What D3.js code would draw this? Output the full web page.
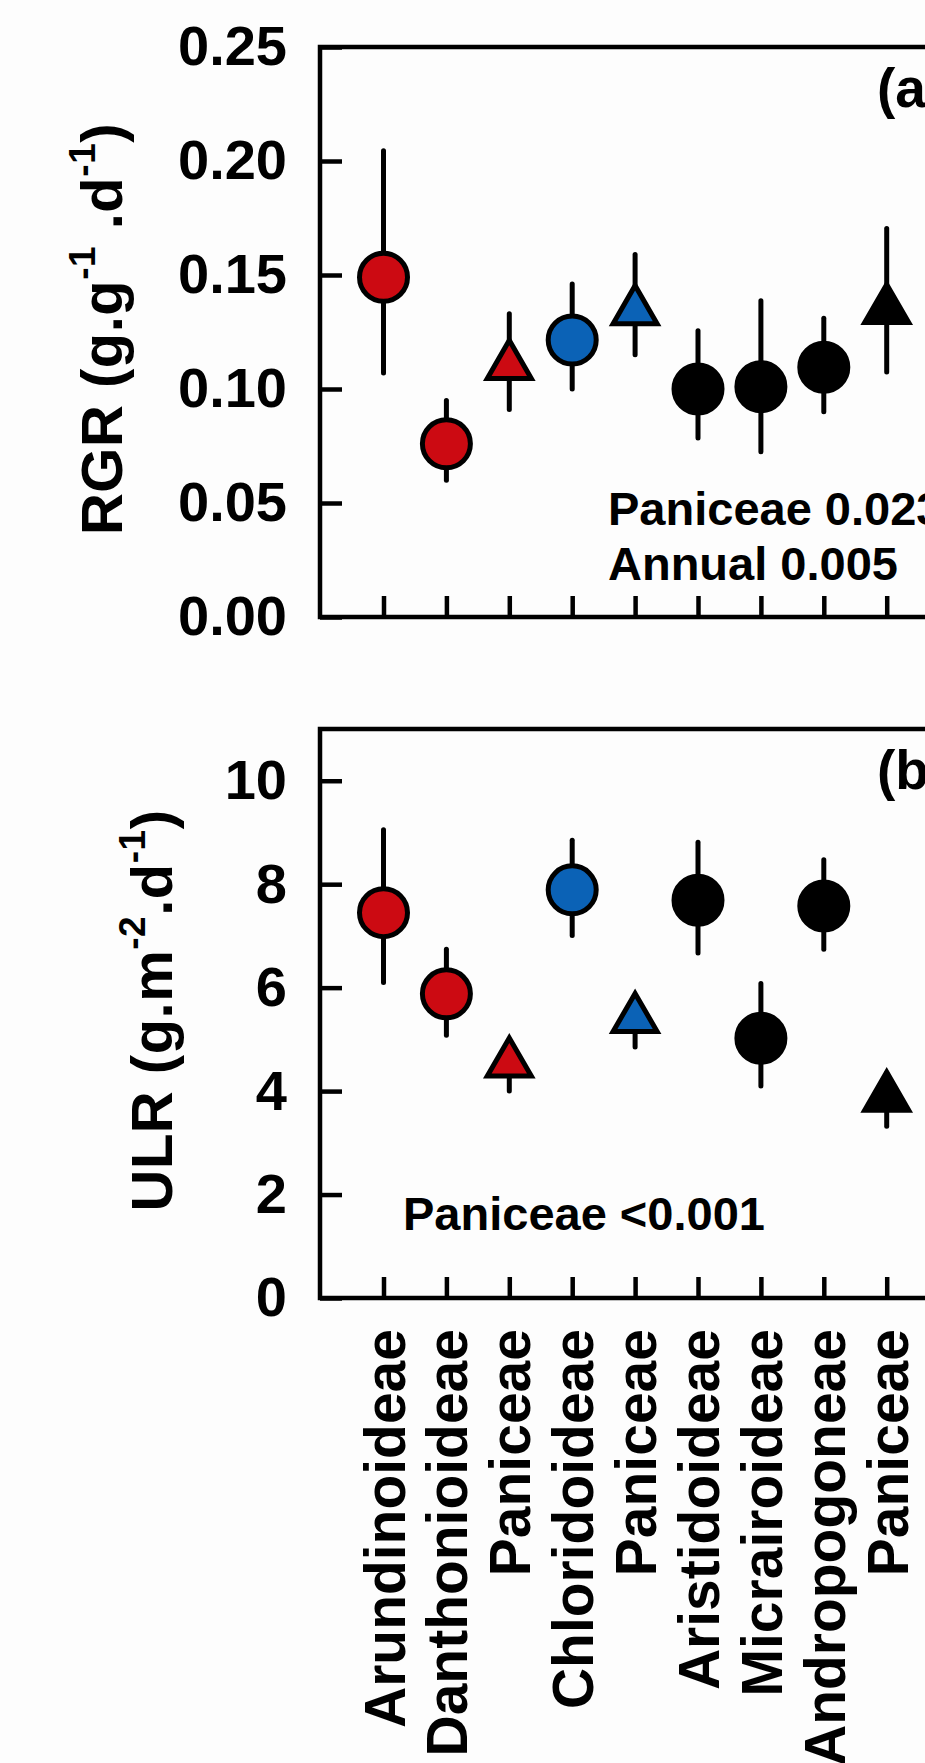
<!DOCTYPE html>
<html>
<head>
<meta charset="utf-8">
<script src="https://cdn.jsdelivr.net/npm/d3@7"></script>
<style>
body { margin: 0; background: #fdfdfd; }
svg { display: block; font-family: "Liberation Sans", Arial, sans-serif; font-weight: bold; }
.axis path.domain { display: none; }
.axis line { stroke: #000; stroke-width: 4.5; }
.axis text { fill: #000; font-size: 56px; }
</style>
</head>
<body>
<svg id="chart" width="925" height="1763"></svg>
<script>
var tribes = ["Arundinoideae", "Danthonioideae", "Paniceae", "Chloridoideae", "Paniceae",
              "Aristidoideae", "Micrairoideae", "Andropogoneae", "Paniceae"];
var shapes = ["circle", "circle", "triangle", "circle", "triangle", "circle", "circle", "circle", "triangle"];
var groups = ["red", "red", "red", "blue", "blue", "black", "black", "black", "black"];

var rgrMean = [0.149, 0.076, 0.113, 0.1215, 0.137, 0.100, 0.101, 0.1095, 0.1375];
var rgrLow  = [0.107, 0.060, 0.091, 0.100, 0.115, 0.0785, 0.0725, 0.090, 0.1075];
var rgrHigh = [0.2045, 0.095, 0.133, 0.146, 0.159, 0.1256, 0.1387, 0.131, 0.1704];
var rgrTicks = [0, 0.05, 0.10, 0.15, 0.20, 0.25];

var ulrMean = [7.45, 5.88, 4.66, 7.89, 5.52, 7.69, 5.02, 7.58, 4.00];
var ulrLow  = [6.10, 5.08, 4.00, 7.01, 4.85, 6.67, 4.10, 6.74, 3.32];
var ulrHigh = [9.05, 6.74, 4.98, 8.85, 5.85, 8.81, 6.08, 8.47, 4.35];
var ulrTicks = [0, 2, 4, 6, 8, 10];

var colours = {red: "#cc0a12", blue: "#0b62b6", black: "#000000"};

var svg = d3.select("#chart");
svg.append("rect").attr("width", 925).attr("height", 1763).attr("fill", "#fdfdfd");

var x = d3.scalePoint().domain(d3.range(tribes.length)).range([383.5, 886.7]);
var frameLeft = 320;

function drawPanel(p) {
  var y = d3.scaleLinear().domain(p.domain).range([p.bottom, p.top]);
  var g = svg.append("g");

  g.append("rect")
    .attr("x", frameLeft).attr("y", p.top)
    .attr("width", 700).attr("height", p.bottom - p.top)
    .attr("fill", "none").attr("stroke", "#000").attr("stroke-width", 4.5);

  g.append("g")
    .attr("class", "axis")
    .attr("transform", "translate(" + frameLeft + ",0)")
    .call(d3.axisLeft(y).tickValues(p.ticks).tickFormat(p.format).tickSize(-22).tickPadding(33));

  var xa = g.append("g")
    .attr("class", "axis")
    .attr("transform", "translate(0," + p.bottom + ")")
    .call(d3.axisBottom(x).tickSize(-21).tickFormat(function(i) { return p.names ? tribes[i] : ""; }));
  xa.selectAll("text")
    .attr("transform", "rotate(-90)")
    .attr("x", -31).attr("y", 0).attr("dy", "0.36em")
    .attr("text-anchor", "end")
    .style("font-size", "57px");

  // error bars
  g.selectAll(".err")
    .data(p.mean)
    .enter().append("line")
    .attr("x1", function(d, i) { return x(i); })
    .attr("x2", function(d, i) { return x(i); })
    .attr("y1", function(d, i) { return y(p.low[i]); })
    .attr("y2", function(d, i) { return y(p.high[i]); })
    .attr("stroke", "#000").attr("stroke-width", 5).attr("stroke-linecap", "round");

  // markers
  var tri = d3.symbol().type(d3.symbolTriangle).size(838);
  var a = Math.sqrt(838 / (Math.sqrt(3) * 3));
  p.mean.forEach(function(d, i) {
    if (shapes[i] === "circle") {
      g.append("circle")
        .attr("cx", x(i)).attr("cy", y(d)).attr("r", 24)
        .attr("fill", colours[groups[i]])
        .attr("stroke", "#000").attr("stroke-width", 5);
    } else {
      g.append("path")
        .attr("d", tri)
        .attr("transform", "translate(" + x(i) + "," + (y(d) + a / 2) + ")")
        .attr("fill", colours[groups[i]])
        .attr("stroke", "#000").attr("stroke-width", 5).attr("stroke-linejoin", "miter");
    }
  });

  // y title with superscripts
  var t = g.append("text")
    .attr("transform", "translate(" + p.titleX + "," + ((p.top + p.bottom) / 2 - 3) + ") rotate(-90)")
    .attr("text-anchor", "middle")
    .style("font-size", "58px")
    .style("letter-spacing", "0.5px");
  p.title.forEach(function(part) {
    var s = t.append("tspan").text(part.t);
    if (part.sup) s.style("font-size", "37px").attr("dy", -27);
    else if (part.back) s.attr("dy", 27);
  });

  // panel letter
  g.append("text")
    .attr("x", 877).attr("y", p.top + 60)
    .style("font-size", "55px")
    .text(p.letter);

  p.notes.forEach(function(n) {
    g.append("text")
      .attr("x", n.x).attr("y", n.y)
      .style("font-size", "47px")
      .text(n.text);
  });
}

drawPanel({
  top: 47, bottom: 617, domain: [0, 0.25], ticks: rgrTicks, format: d3.format(".2f"),
  mean: rgrMean, low: rgrLow, high: rgrHigh, names: false,
  titleX: 122,
  title: [{t: "RGR (g.g"}, {t: "-1", sup: true}, {t: " .d", back: true}, {t: "-1", sup: true}, {t: ")", back: true}],
  letter: "(a)",
  notes: [{x: 608, y: 525, text: "Paniceae 0.023"}, {x: 608, y: 580, text: "Annual 0.005"}]
});

drawPanel({
  top: 729, bottom: 1298, domain: [0, 11], ticks: ulrTicks, format: d3.format("d"),
  mean: ulrMean, low: ulrLow, high: ulrHigh, names: true,
  titleX: 172,
  title: [{t: "ULR (g.m"}, {t: "-2", sup: true}, {t: ".d", back: true}, {t: "-1", sup: true}, {t: ")", back: true}],
  letter: "(b)",
  notes: [{x: 403, y: 1230, text: "Paniceae <0.001"}]
});
</script>
</body>
</html>
